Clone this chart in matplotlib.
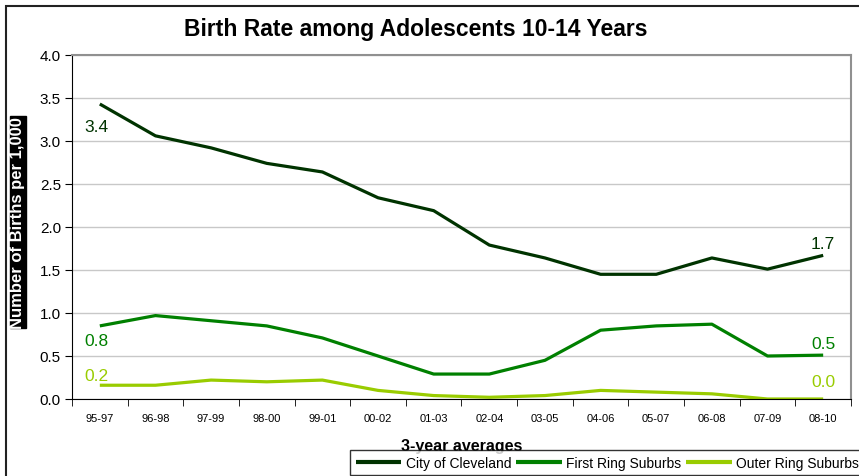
import numpy as np
import matplotlib.pyplot as plt
from matplotlib.patches import Rectangle

plt.rcParams['font.family'] = ['Liberation Sans', 'DejaVu Sans']

periods = ['95-97', '96-98', '97-99', '98-00', '99-01', '00-02', '01-03',
           '02-04', '03-05', '04-06', '05-07', '06-08', '07-09', '08-10']
cleveland = [3.43, 3.06, 2.92, 2.74, 2.64, 2.34, 2.19, 1.79, 1.64, 1.45, 1.45, 1.64, 1.51, 1.67]
first_ring = [0.85, 0.97, 0.91, 0.85, 0.71, 0.50, 0.29, 0.29, 0.45, 0.80, 0.85, 0.87, 0.50, 0.51]
outer_ring = [0.16, 0.16, 0.22, 0.20, 0.22, 0.10, 0.04, 0.02, 0.04, 0.10, 0.08, 0.06, 0.00, 0.00]
series_names = ['City of Cleveland', 'First Ring Suburbs', 'Outer Ring Suburbs']
colors = ['#003300', '#008000', '#99cc00']

fig = plt.figure(figsize=(8.59, 4.77), dpi=100)
ax = fig.add_axes([72/859, 1 - 400/477, 779/859, 344/477])

x = np.arange(len(periods))
# label offsets in points: (dx, dy, va) at the first point, dy at the last point
first_off = [(-2.5, -11, 'top'), (-2.5, -5, 'top'), (-2.5, 1.5, 'bottom')]
last_off = [3, 3, 7.5]
lines = []
for vals, name, c, off, loff in zip([cleveland, first_ring, outer_ring], series_names,
                                     colors, first_off, last_off):
    ln, = ax.plot(x, vals, color=c, lw=2.3, label=name, solid_capstyle='butt')
    lines.append(ln)
    ax.annotate(f'{vals[0]:.1f}', (x[0], vals[0]), xytext=off[:2],
                textcoords='offset points', ha='center', va=off[2], fontsize=12.5, color=c)
    ax.annotate(f'{vals[-1]:.1f}', (x[-1], vals[-1]), xytext=(0, loff),
                textcoords='offset points', ha='center', va='bottom', fontsize=12.5, color=c)

ax.set_xlim(-0.5, len(periods) - 0.5)
ax.set_ylim(0, 4.0)
yt = np.arange(0, 4.01, 0.5)
ax.set_yticks(yt)
ax.set_yticklabels([f'{v:.1f}' for v in yt], fontsize=11)
ax.set_xticks(x)
ax.set_xticklabels(periods, fontsize=8)
ax.set_xticks(np.arange(-0.5, len(periods)), minor=True)
ax.tick_params(axis='x', which='major', length=0, pad=10)
ax.tick_params(axis='x', which='minor', length=5, direction='out', color='black')
ax.tick_params(axis='y', length=5, direction='out', pad=3)
ax.grid(axis='y', color='#c8c8c8', lw=1)
ax.set_axisbelow(True)
for s in ['top', 'right']:
    ax.spines[s].set_color('#909090')
    ax.spines[s].set_linewidth(1.5)

ax.set_title('Birth Rate among Adolescents 10-14 Years', fontsize=16.5, fontweight='bold',
             x=(416 - 72) / 779, y=1 + 20 / 344, pad=0)
ax.set_xlabel('3-year averages', fontsize=11.5, fontweight='bold')
ax.xaxis.set_label_coords(0.5, -0.112)
ax.set_ylabel('Number of Births per 1,000', fontsize=12, fontweight='bold', color='white',
              bbox=dict(facecolor='black', edgecolor='black', pad=0.3))
ax.yaxis.set_label_coords(-0.060, 0.5145)

leg = fig.legend(handles=lines, loc='upper left', bbox_to_anchor=(350/859, 1 - 451/477),
                 ncol=3, fontsize=10, frameon=True, fancybox=False, edgecolor='black',
                 handlelength=3.3, handletextpad=0.3, columnspacing=0.35, borderpad=0.4,
                 borderaxespad=0)
leg.get_frame().set_linewidth(1)
for h in leg.legend_handles:
    h.set_linewidth(3)

fig.add_artist(Rectangle((6/859, -0.1), 1.1, 1.1 - 7/477, transform=fig.transFigure,
                         fill=False, edgecolor='#222222', lw=1.5))

fig.savefig('out.png', dpi=100)
